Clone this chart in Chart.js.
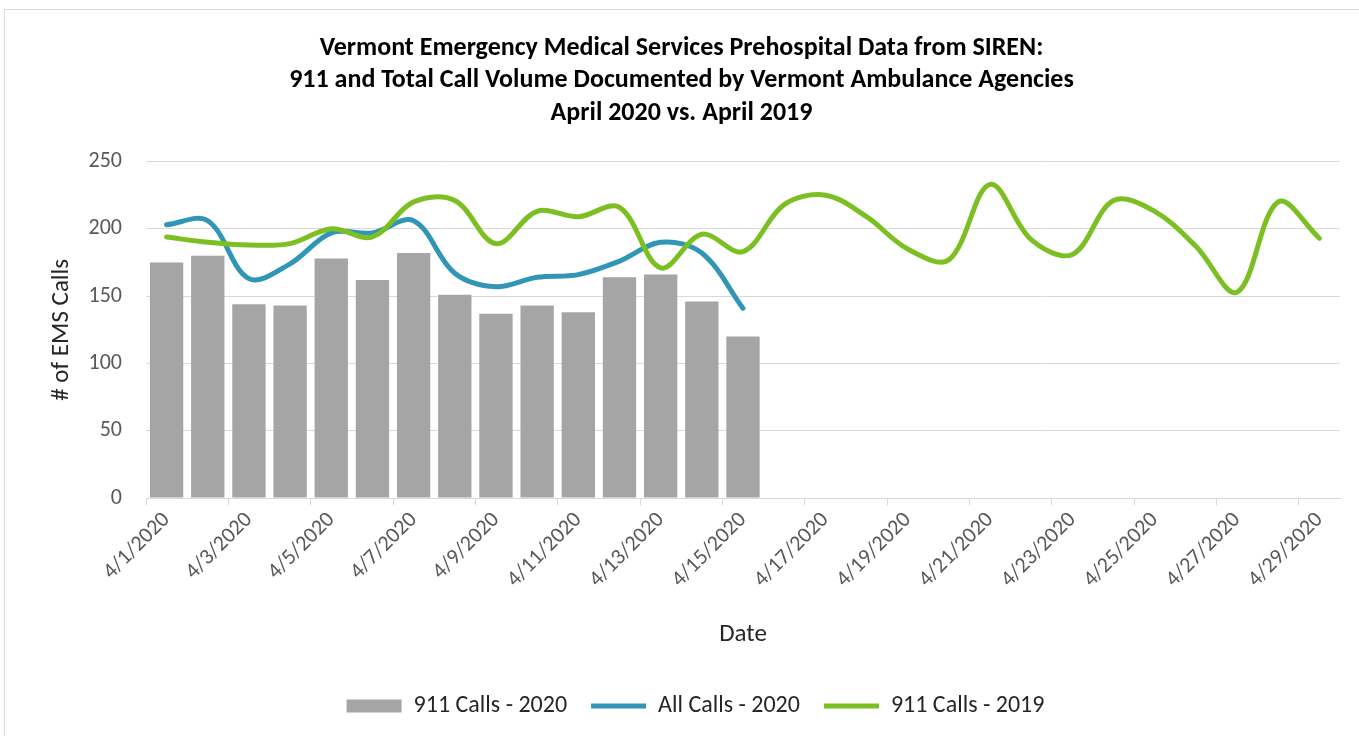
<!DOCTYPE html>
<html>
<head>
<meta charset="utf-8">
<script src="https://cdn.jsdelivr.net/npm/chart.js@4"></script>
<style>
  html, body { margin: 0; padding: 0; background: #fff; overflow: hidden; }
  #wrap { position: relative; width: 1359px; height: 736px; }
  #frame { position: absolute; left: 4px; top: 9px; width: 1400px; height: 800px; border: 1px solid #d9d9d9; }
  #chart { position: absolute; left: 0; top: 0; }
</style>
</head>
<body>
<div id="wrap">
  <div id="frame"></div>
  <canvas id="chart" width="1359" height="736"></canvas>
</div>
<script>
const dates = [
  '4/1/2020', '4/2/2020', '4/3/2020', '4/4/2020', '4/5/2020', '4/6/2020', '4/7/2020', '4/8/2020',
  '4/9/2020', '4/10/2020', '4/11/2020', '4/12/2020', '4/13/2020', '4/14/2020', '4/15/2020', '4/16/2020',
  '4/17/2020', '4/18/2020', '4/19/2020', '4/20/2020', '4/21/2020', '4/22/2020', '4/23/2020', '4/24/2020',
  '4/25/2020', '4/26/2020', '4/27/2020', '4/28/2020', '4/29/2020'
];
const calls911_2020 = [175, 180, 144, 143, 178, 162, 182, 151, 137, 143, 138, 164, 166, 146, 120];
const allCalls_2020 = [203, 206, 163, 174, 197, 197, 206, 167, 157, 164, 166, 176, 190, 182, 141];
const calls911_2019 = [194, 190, 188, 189, 200, 194, 220, 221, 189, 213, 209, 216, 171, 196, 183,
  218, 225, 209, 185, 177, 233, 192, 181, 221, 213, 187, 153, 220, 193];
const yTicks = [0, 50, 100, 150, 200, 250];

const titleLines = [
  'Vermont Emergency Medical Services Prehospital Data from SIREN:',
  '911 and Total Call Volume Documented by Vermont Ambulance Agencies',
  'April 2020 vs. April 2019'
];

Chart.defaults.font.family = 'Carlito, Lato, sans-serif';

// nudge the legend a little to the right, like the Excel original
const legendShift = {
  id: 'legendShift',
  afterLayout(chart) {
    if (chart.legend) {
      chart.legend.left += 14;
      chart.legend.right += 14;
    }
  }
};

const ctx = document.getElementById('chart').getContext('2d');

const emsChart = new Chart(ctx, {
  type: 'bar',
  data: {
    labels: dates,
    datasets: [
      {
        type: 'bar',
        label: '911 Calls - 2020',
        data: calls911_2020,
        backgroundColor: '#a5a5a5',
        borderWidth: 0,
        barPercentage: 0.81,
        categoryPercentage: 1,
        pointStyle: 'rect',
        order: 3
      },
      {
        type: 'line',
        label: 'All Calls - 2020',
        data: allCalls_2020,
        borderColor: '#3196b6',
        backgroundColor: '#3196b6',
        borderWidth: 5,
        borderCapStyle: 'round',
        tension: 0.35,
        pointRadius: 0,
        pointStyle: 'line',
        fill: false,
        order: 2
      },
      {
        type: 'line',
        label: '911 Calls - 2019',
        data: calls911_2019,
        borderColor: '#7bbf22',
        backgroundColor: '#7bbf22',
        borderWidth: 5,
        borderCapStyle: 'round',
        tension: 0.35,
        pointRadius: 0,
        pointStyle: 'line',
        fill: false,
        order: 1
      }
    ]
  },
  plugins: [legendShift],
  options: {
    responsive: false,
    animation: false,
    layout: { padding: { left: 23, right: 19, top: 32, bottom: 8 } },
    plugins: {
      title: {
        display: true,
        text: titleLines,
        color: '#000000',
        font: { size: 26, weight: 'bold', lineHeight: 1.25 },
        padding: { top: 0, bottom: 32 }
      },
      legend: {
        position: 'bottom',
        labels: {
          usePointStyle: true,
          pointStyleWidth: 55,
          boxHeight: 13,
          color: '#262626',
          font: { size: 24 },
          padding: 24,
          sort: (a, b) => a.datasetIndex - b.datasetIndex
        }
      },
      tooltip: { enabled: false }
    },
    scales: {
      x: {
        offset: true,
        afterFit: (axis) => { axis.paddingLeft = 0; },
        grid: {
          offset: true,
          drawOnChartArea: false,
          drawTicks: true,
          tickLength: 7,
          color: (c) => (c.index % 2 === 0 ? '#d9d9d9' : 'rgba(0,0,0,0)')
        },
        border: { display: true, color: '#d9d9d9', width: 1 },
        ticks: {
          autoSkip: false,
          maxRotation: 45,
          minRotation: 45,
          color: '#595959',
          font: { size: 22 },
          padding: 2,
          callback: function(value, index) {
            return index % 2 === 0 ? this.getLabelForValue(value) : '';
          }
        },
        title: {
          display: true,
          text: 'Date',
          color: '#262626',
          font: { size: 25 },
          padding: { top: 25, bottom: 20 }
        }
      },
      y: {
        min: 0,
        max: 250,
        afterBuildTicks: (axis) => { axis.ticks = yTicks.map(v => ({ value: v })); },
        afterFit: (axis) => { axis.width = 123; },
        grid: { color: '#d9d9d9', lineWidth: 1, drawTicks: false },
        border: { display: false },
        ticks: {
          color: '#595959',
          font: { size: 22 },
          padding: 24
        },
        title: {
          display: true,
          text: '# of EMS Calls',
          color: '#262626',
          font: { size: 25 },
          padding: { top: 24, bottom: 5 }
        }
      }
    }
  }
});
</script>
</body>
</html>
